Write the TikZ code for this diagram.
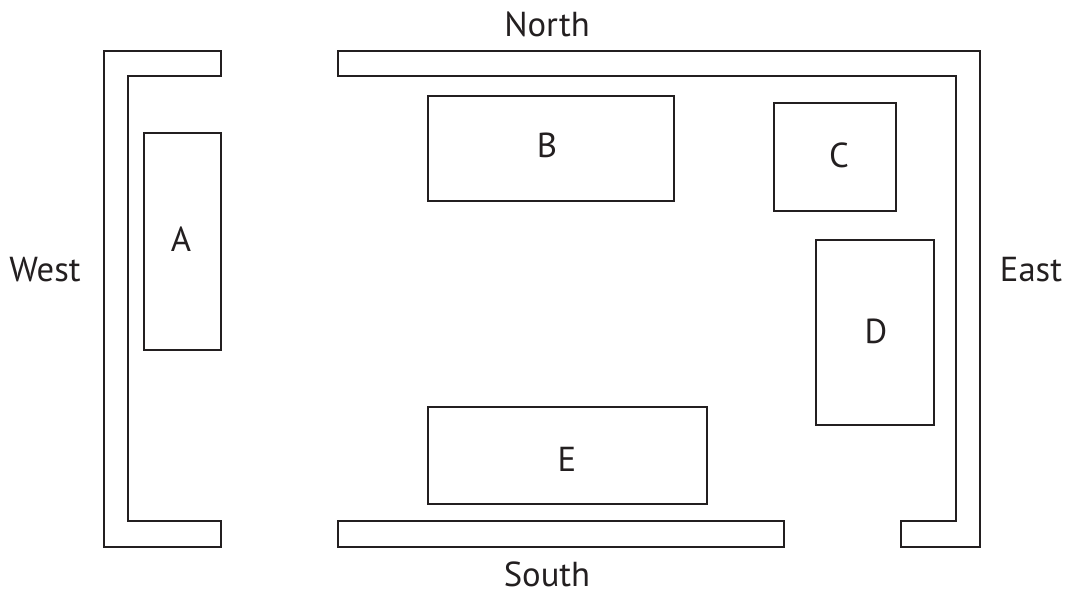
\documentclass[tikz,border=0pt]{standalone}
\usepackage{fontspec}
\setmainfont{PT Sans}
\usetikzlibrary{calc}

\definecolor{ink}{HTML}{231F20}
\tikzset{
  wall/.style={draw=ink, line width=1.1pt, line join=miter},
  lbl/.style={text=ink, inner sep=0pt, font=\fontsize{26}{30}\selectfont}
}

\begin{document}
\begin{tikzpicture}[x=0.75pt, y=-0.75pt]
\useasboundingbox (0,0) rectangle (1068,593);

% walls
\draw[wall] (221,51) -- (104,51) -- (104,547) -- (221,547) -- (221,521) -- (128,521) -- (128,76) -- (221,76) -- cycle;
\draw[wall] (338,51) -- (980,51) -- (980,547) -- (901,547) -- (901,521) -- (956,521) -- (956,76) -- (338,76) -- cycle;
\draw[wall] (338,521) rectangle (784,547);

% rooms
\draw[wall] (144,133) rectangle (221,350);
\draw[wall] (428,96) rectangle (674,201);
\draw[wall] (774,103) rectangle (896,211);
\draw[wall] (816,240) rectangle (934,425);
\draw[wall] (428,407) rectangle (707,504);

\node[lbl] (A) at (181,239) {A};
\node[lbl] (B) at (547,145) {B};
\node[lbl] (C) at (839,155) {C};
\node[lbl] (D) at (876,331) {D};
\node[lbl] (E) at (567,459) {E};

% directions
\node[lbl] (north) at (547,24) {North};
\node[lbl] (south) at (547,574) {South};
\node[lbl] (west) at (45,270) {West};
\node[lbl] (east) at (1031,270) {East};

\end{tikzpicture}
\end{document}
